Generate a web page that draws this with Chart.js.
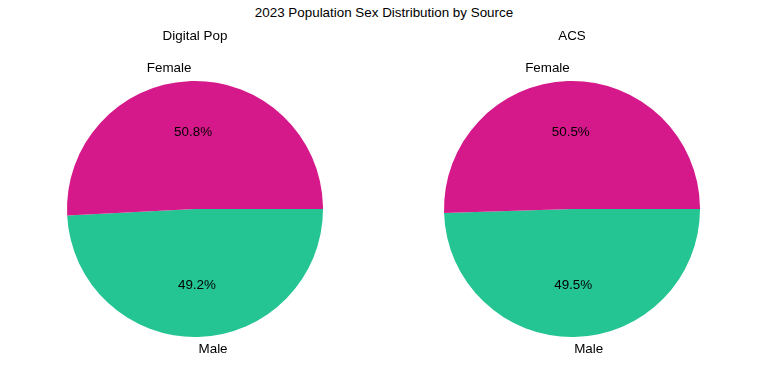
<!DOCTYPE html>
<html>
<head>
<meta charset="utf-8">
<script src="https://cdn.jsdelivr.net/npm/chart.js@4/dist/chart.umd.min.js"></script>
<style>
  html, body { margin: 0; padding: 0; background: #fff; }
  #wrap { position: relative; width: 768px; height: 384px; overflow: hidden; font-family: "Liberation Sans", Arial, sans-serif; }
  #title { position: absolute; left: 0; width: 768px; top: 5px; text-align: center; font-size: 13.4px; color: #000; }
  .c { position: absolute; top: 0; }
</style>
</head>
<body>
<div id="wrap">
  <div id="title">2023 Population Sex Distribution by Source</div>
  <canvas id="c1" class="c" style="left:3px" width="384" height="384"></canvas>
  <canvas id="c2" class="c" style="left:380px" width="384" height="384"></canvas>
</div>
<script>
// Data (order as drawn counterclockwise from 3 o'clock in the reference)
const categories = ["Female", "Male"];
const sources = ["Digital Pop", "ACS"];
const digitalPopValues = [50.8, 49.2];
const acsValues = [50.5, 49.5];
const sliceColors = ["#d6198a", "#24c493"];

const FONT = '"Liberation Sans", Arial, sans-serif';

// Chart.js draws clockwise; reverse order so Female lands on top (counterclockwise look)
function rev(a) { return a.slice().reverse(); }

const labelPlugin = {
  id: 'pieLabels',
  afterDraw(chart, args, opts) {
    const ctx = chart.ctx;
    const meta = chart.getDatasetMeta(0);
    const data = chart.data.datasets[0].data;
    const labels = chart.data.labels;
    const total = data.reduce((a, b) => a + b, 0);
    ctx.save();
    ctx.fillStyle = '#000';
    ctx.font = '13.4px ' + FONT;
    meta.data.forEach((arc, i) => {
      const p = arc.getProps(['x', 'y', 'startAngle', 'endAngle', 'outerRadius'], true);
      const mid = (p.startAngle + p.endAngle) / 2;
      const cx = Math.cos(mid), cy = Math.sin(mid);
      const lx = p.x + cx * p.outerRadius * 1.1;
      const ly = p.y + cy * p.outerRadius * 1.1;
      ctx.textBaseline = 'middle';
      ctx.textAlign = cx < 0 ? 'right' : 'left';
      ctx.fillText(labels[i], lx, ly);
      ctx.textAlign = 'center';
      const px = p.x + cx * p.outerRadius * 0.6;
      const py = p.y + cy * p.outerRadius * 0.6;
      ctx.fillText((data[i] / total * 100).toFixed(1) + '%', px, py);
    });
    ctx.textAlign = 'center';
    ctx.textBaseline = 'middle';
    ctx.fillText(opts.title, meta.data[0].x, 36);
    ctx.restore();
  }
};

function makePie(id, values, title) {
  return new Chart(document.getElementById(id), {
    type: 'pie',
    data: {
      labels: rev(categories),
      datasets: [{
        data: rev(values),
        backgroundColor: rev(sliceColors),
        borderWidth: 0,
        hoverOffset: 0
      }]
    },
    options: {
      responsive: false,
      animation: false,
      rotation: 90,
      layout: { padding: { top: 81, bottom: 47, left: 64, right: 64 } },
      plugins: {
        legend: { display: false },
        tooltip: { enabled: false },
        title: { display: false },
        pieLabels: { title: title }
      }
    },
    plugins: [labelPlugin]
  });
}

makePie('c1', digitalPopValues, sources[0]);
makePie('c2', acsValues, sources[1]);
</script>
</body>
</html>
